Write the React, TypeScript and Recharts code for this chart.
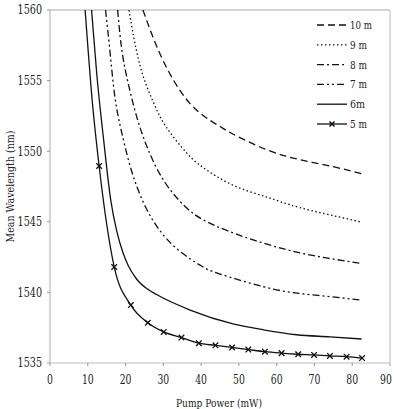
import React from 'react';
import { ComposedChart, Line, XAxis, YAxis, ReferenceLine, Legend } from 'recharts';

// Pump power (mW) and mean wavelength (nm) for each fibre length
const pump10 = [24.6, 29.1, 34.4, 39.7, 45.0, 48.5, 57.4, 66.2, 75.0, 82.5];
const wave10 = [1560, 1556.9, 1554.3, 1552.7, 1551.75, 1551.2, 1550.1, 1549.4, 1548.9, 1548.4];

const pump9 = [20.9, 23.8, 27.3, 30.8, 36.1, 40.5, 48.4, 57.4, 66.2, 78.9, 82.5];
const wave9 = [1560, 1556.1, 1553.5, 1551.7, 1549.9, 1548.85, 1547.6, 1546.75, 1546.0, 1545.2, 1544.95];

const pump8 = [17.9, 19.0, 20.7, 23.0, 26.0, 30.4, 35.7, 40.5, 47.6, 56.4, 65.3, 74.1, 82.5];
const wave8 = [1560, 1557.2, 1554.8, 1552.4, 1550.1, 1547.8, 1546.1, 1545.15, 1544.3, 1543.5, 1542.85, 1542.4, 1542.05];

const pump7 = [14.7, 15.9, 17.2, 19.0, 21.6, 25.2, 29.6, 34.9, 40.2, 45.0, 56.5, 65.3, 74.1, 82.5];
const wave7 = [1560, 1557.0, 1553.8, 1551.3, 1548.6, 1546.1, 1544.2, 1542.8, 1541.85, 1541.3, 1540.4, 1539.95, 1539.7, 1539.45];

const pump6 = [11.0, 12.4, 14.2, 16.1, 17.7, 19.4, 20.7, 22.9, 26.0, 28.2, 37.1, 48.7, 56.5, 65.3, 74.1, 82.5];
const wave6 = [1560, 1555.4, 1550.8, 1546.5, 1544.3, 1542.75, 1541.9, 1540.95, 1540.2, 1539.85, 1538.75, 1537.75, 1537.35, 1537.0, 1536.85, 1536.7];

// 5 m: the steep lead-in has no markers, the measured points do
const pump5Lead = [9.3, 11.2];
const wave5Lead = [1560, 1553.5];
const pump5 = [13.0, 17.0, 21.4, 25.9, 30.1, 34.8, 39.4, 43.8, 48.2, 52.5, 56.9, 61.3, 65.7, 69.9, 74.1, 78.5, 82.6];
const wave5 = [1548.95, 1541.8, 1539.1, 1537.85, 1537.2, 1536.8, 1536.4, 1536.25, 1536.1, 1535.95, 1535.8, 1535.7, 1535.62, 1535.57, 1535.5, 1535.45, 1535.35];

const xTicks = [0, 10, 20, 30, 40, 50, 60, 70, 80, 90];
const yTicks = [1535, 1540, 1545, 1550, 1555, 1560];

const legendLabels = ['10 m', '9 m', '8 m', '7 m', '6m', '5 m'];
const legendDashes = ['7 4', '1.5 2.5', '7 3 2 3', '7 3 2 3 2 3', '', ''];

const zip = (xs: number[], ys: number[]) => xs.map((x, i) => ({ x, y: ys[i] }));

const data10 = zip(pump10, wave10);
const data9 = zip(pump9, wave9);
const data8 = zip(pump8, wave8);
const data7 = zip(pump7, wave7);
const data6 = zip(pump6, wave6);
const data5Marks = zip(pump5, wave5);
const data5 = [...zip(pump5Lead, wave5Lead), ...data5Marks];

const INK = '#111';
const TEXT = '#222';
const FONT = 'DejaVu Serif';

// Narrow serif look: squeeze glyphs to a fixed advance per character
const narrow = (s: string, perChar: number) => s.length * perChar;

const renderCross = (p: any) => {
  const { cx, cy, index } = p;
  if (cx == null || cy == null) return <g key={`c-${index}`} />;
  const s = 2.8;
  return (
    <path
      key={`c-${index}`}
      d={`M${cx - s},${cy - s}L${cx + s},${cy + s}M${cx - s},${cy + s}L${cx + s},${cy - s}`}
      stroke={INK}
      strokeWidth={1.3}
      fill="none"
    />
  );
};

const renderXTick = (p: any) => {
  const label = String(p.payload.value);
  return (
    <text
      x={p.x}
      y={p.y}
      dy="0.71em"
      textAnchor="middle"
      fontSize={12}
      fontFamily={FONT}
      fill={TEXT}
      textLength={narrow(label, 5.9)}
      lengthAdjust="spacingAndGlyphs"
    >
      {label}
    </text>
  );
};

const renderYTick = (p: any) => {
  const label = String(p.payload.value);
  return (
    <text
      x={p.x}
      y={p.y}
      dy="0.36em"
      textAnchor="end"
      fontSize={12}
      fontFamily={FONT}
      fill={TEXT}
      textLength={narrow(label, 6.1)}
      lengthAdjust="spacingAndGlyphs"
    >
      {label}
    </text>
  );
};

const legendWidths = [22, 17, 17, 17, 15, 17];

const renderLegend = () => (
  <svg width={80} height={125} style={{ display: 'block' }}>
    {legendLabels.map((label, i) => {
      const y = 11 + i * 19.8;
      return (
        <g key={label}>
          <line
            x1={5}
            x2={35}
            y1={y}
            y2={y}
            stroke={INK}
            strokeWidth={1.3}
            strokeDasharray={legendDashes[i] || undefined}
          />
          {i === 5 && (
            <path
              d={`M${20 - 2.5},${y - 2.5}L${20 + 2.5},${y + 2.5}M${20 - 2.5},${y + 2.5}L${20 + 2.5},${y - 2.5}`}
              stroke={INK}
              strokeWidth={1.5}
            />
          )}
          <text
            x={38}
            y={y + 4}
            fontSize={11.5}
            fontFamily={FONT}
            fill={TEXT}
            textLength={legendWidths[i]}
            lengthAdjust="spacingAndGlyphs"
          >
            {label}
          </text>
        </g>
      );
    })}
  </svg>
);

const renderYTitle = (props: any) => {
  const vb = props.viewBox || {};
  const cy = (vb.y ?? 10) + (vb.height ?? 353) / 2;
  return (
    <text
      x={10}
      y={cy}
      transform={`rotate(-90, 10, ${cy})`}
      textAnchor="middle"
      dominantBaseline="central"
      fontSize={11}
      fontFamily={FONT}
      fill={TEXT}
      textLength={112}
      lengthAdjust="spacingAndGlyphs"
    >
      Mean Wavelength (nm)
    </text>
  );
};

const renderXTitle = (props: any) => {
  const vb = props.viewBox || {};
  const cx = (vb.x ?? 50) + (vb.width ?? 340) / 2;
  return (
    <text
      x={cx - 1}
      y={407}
      textAnchor="middle"
      fontSize={11}
      fontFamily={FONT}
      fill={TEXT}
      textLength={86}
      lengthAdjust="spacingAndGlyphs"
    >
      Pump Power (mW)
    </text>
  );
};

export default function App() {
  return (
    <div style={{ position: 'absolute', left: 0, top: 0, background: '#fff' }}>
      <ComposedChart width={394} height={409} margin={{ top: 10, right: 4, bottom: 0, left: 0 }}>
        <XAxis
          type="number"
          dataKey="x"
          domain={[0, 90]}
          ticks={xTicks}
          allowDataOverflow
          height={46}
          tickSize={3}
          tickMargin={9}
          tick={renderXTick}
          axisLine={{ stroke: '#bbb' }}
          tickLine={{ stroke: '#999' }}
          label={renderXTitle}
        />
        <YAxis
          type="number"
          dataKey="y"
          domain={[1535, 1560]}
          ticks={yTicks}
          allowDataOverflow
          width={50}
          tickSize={3}
          tickMargin={5}
          tick={renderYTick}
          axisLine={{ stroke: '#aaa' }}
          tickLine={{ stroke: '#999' }}
          label={renderYTitle}
        />
        <ReferenceLine y={1560} stroke="#c4c4c4" strokeWidth={1.5} />
        <ReferenceLine x={90} stroke="#c4c4c4" strokeWidth={1.2} />
        <Line data={data10} dataKey="y" type="natural" stroke={INK} strokeWidth={1.3} strokeDasharray="7 4" dot={false} activeDot={false} isAnimationActive={false} />
        <Line data={data9} dataKey="y" type="natural" stroke={INK} strokeWidth={1.3} strokeDasharray="1.5 2.5" dot={false} activeDot={false} isAnimationActive={false} />
        <Line data={data8} dataKey="y" type="natural" stroke={INK} strokeWidth={1.3} strokeDasharray="7 3 2 3" dot={false} activeDot={false} isAnimationActive={false} />
        <Line data={data7} dataKey="y" type="natural" stroke={INK} strokeWidth={1.3} strokeDasharray="7 3 2 3 2 3" dot={false} activeDot={false} isAnimationActive={false} />
        <Line data={data6} dataKey="y" type="monotone" stroke={INK} strokeWidth={1.3} dot={false} activeDot={false} isAnimationActive={false} />
        <Line data={data5} dataKey="y" type="monotone" stroke={INK} strokeWidth={1.3} dot={false} activeDot={false} isAnimationActive={false} />
        <Line data={data5Marks} dataKey="y" type="monotone" stroke="none" dot={renderCross} activeDot={false} isAnimationActive={false} />
        <Legend
          layout="horizontal"
          verticalAlign="middle"
          align="center"
          content={renderLegend}
          wrapperStyle={{ position: 'absolute', left: 312, top: 14, width: 80, height: 125 }}
        />
      </ComposedChart>
    </div>
  );
}
